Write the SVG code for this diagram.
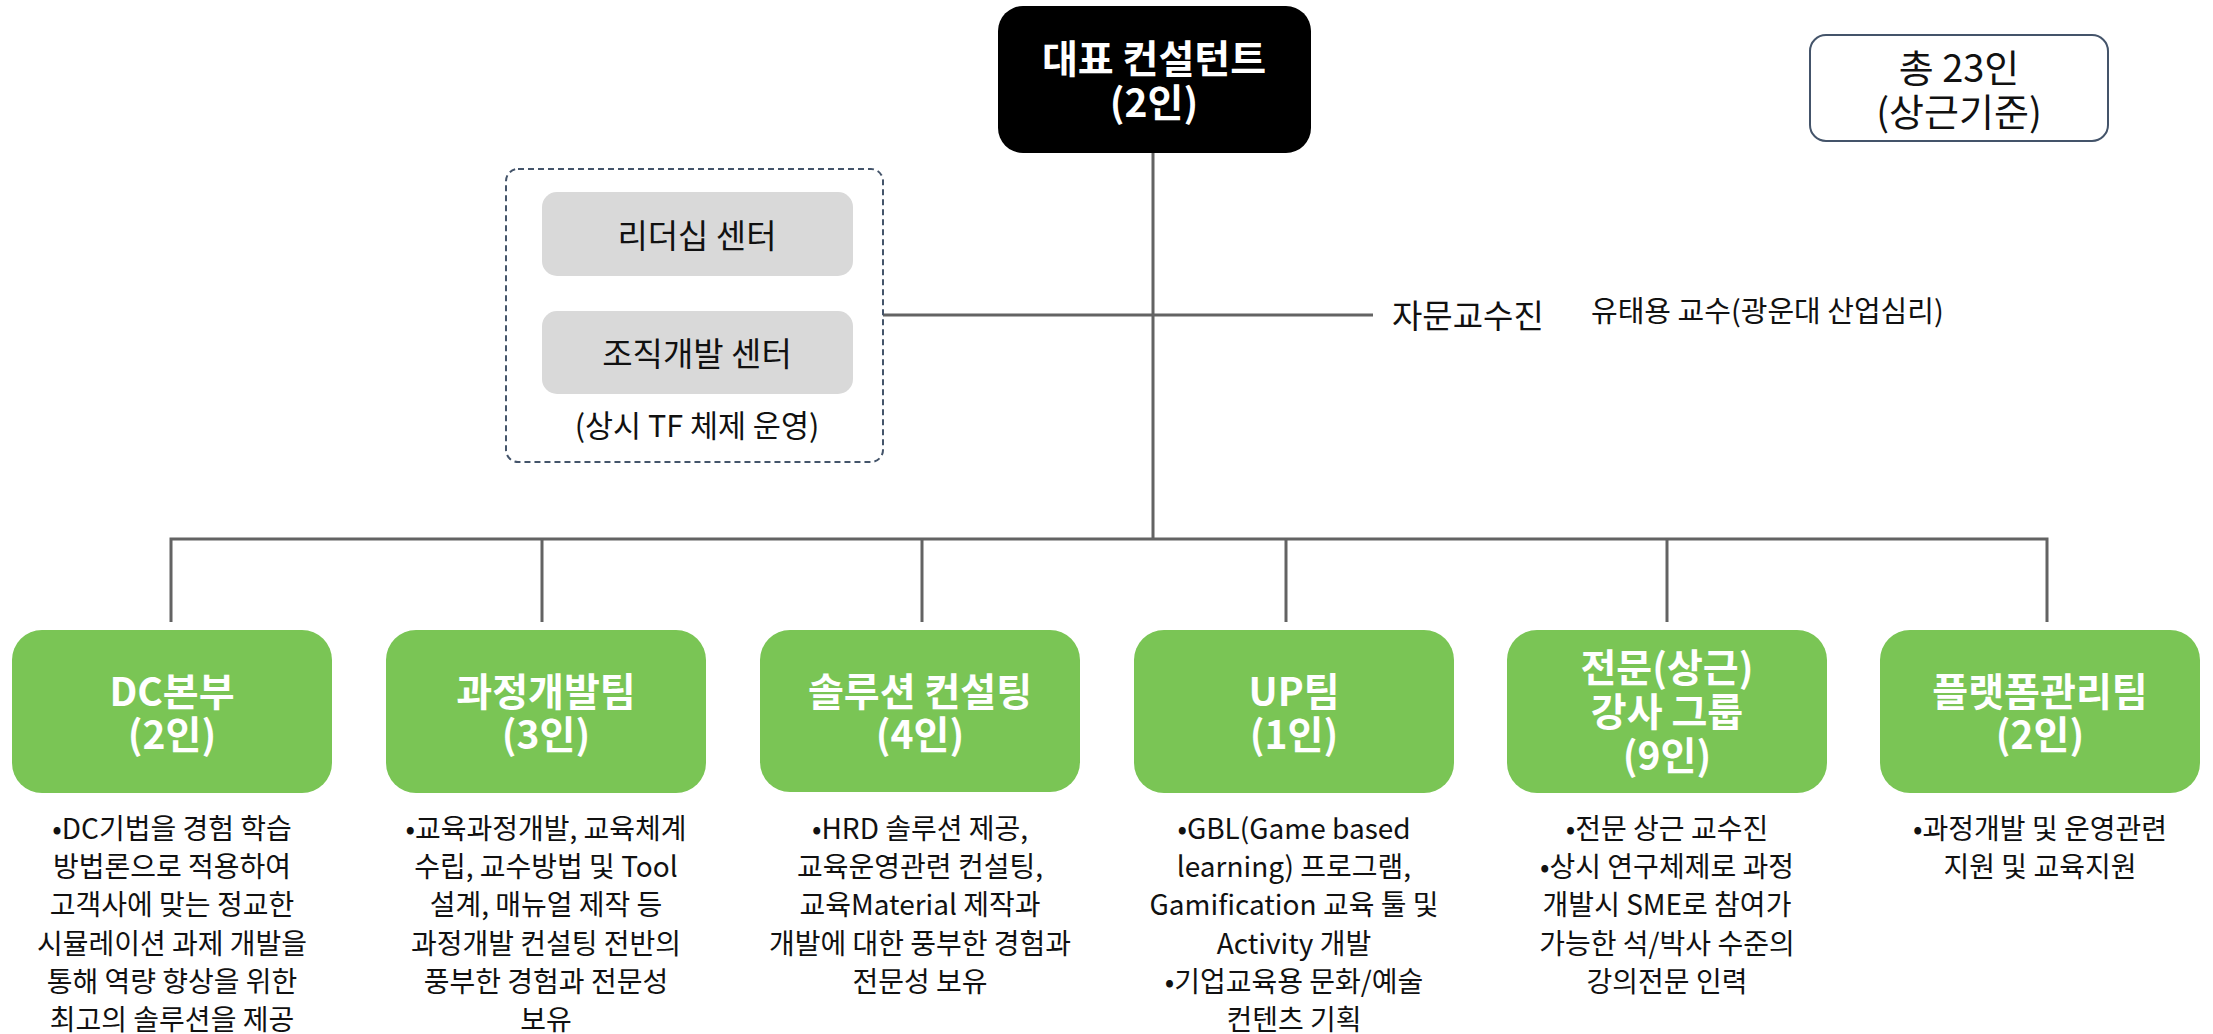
<svg xmlns="http://www.w3.org/2000/svg" width="2213" height="1034" viewBox="0 0 2213 1034">
<style>
text { font-family: "Noto Sans CJK KR", "Noto Sans", sans-serif; }
.conn { stroke: #636363; stroke-width: 3; fill: none; }
.team { fill: #7AC555; }
.title { font-weight: 700; font-size: 39px; fill: #ffffff; text-anchor: middle; }
.desc { font-size: 28px; fill: #111111; text-anchor: middle; }
.center { fill: #d9d9d9; }
.ctext { font-size: 33px; fill: #111111; text-anchor: middle; }
</style>
<rect x="0" y="0" width="2213" height="1034" fill="#ffffff"/>

<g id="connectors">
  <path class="conn" d="M1153 153 V539"/>
  <path class="conn" d="M883 315 H1373"/>
  <path class="conn" d="M171 622 V539 H2047 V622"/>
  <path class="conn" d="M542 539 V622"/>
  <path class="conn" d="M922 539 V622"/>
  <path class="conn" d="M1286 539 V622"/>
  <path class="conn" d="M1667 539 V622"/>
</g>

<g id="ceo">
  <rect x="998" y="6" width="313" height="147" rx="25" fill="#000000"/>
  <text class="title" x="1154" y="73">대표 컨설턴트<tspan x="1154" dy="44">(2인)</tspan></text>
</g>

<g id="total">
  <rect x="1810" y="35" width="298" height="106" rx="16" fill="#ffffff" stroke="#44546A" stroke-width="2"/>
  <text x="1959" y="82" font-size="38" fill="#111111" text-anchor="middle">총 23인<tspan x="1959" dy="44">(상근기준)</tspan></text>
</g>

<g id="tf-centers">
  <rect x="506" y="169" width="377" height="293" rx="12" fill="none" stroke="#44546A" stroke-width="2" stroke-dasharray="6 4"/>
  <g id="leadership-center">
    <rect class="center" x="542" y="192" width="311" height="84" rx="15"/>
    <text class="ctext" x="697" y="248">리더십 센터</text>
  </g>
  <g id="od-center">
    <rect class="center" x="542" y="311" width="311" height="83" rx="15"/>
    <text class="ctext" x="697" y="366">조직개발 센터</text>
  </g>
  <text x="697" y="437" font-size="30.5" fill="#111111" text-anchor="middle">(상시 TF 체제 운영)</text>
</g>

<g id="advisors">
  <text x="1392" y="328" font-size="33" fill="#111111">자문교수진</text>
  <text x="1591" y="322" font-size="29" fill="#111111">유태용 교수(광운대 산업심리)</text>
</g>

<g id="team-dc">
  <rect class="team" x="12" y="630" width="320" height="163" rx="30"/>
  <text class="title" x="172" y="706">DC본부<tspan x="172" dy="43">(2인)</tspan></text>
  <text class="desc" x="172" y="839">•DC기법을 경험 학습<tspan x="172" dy="38.2">방법론으로 적용하여</tspan><tspan x="172" dy="38.2">고객사에 맞는 정교한</tspan><tspan x="172" dy="38.2">시뮬레이션 과제 개발을</tspan><tspan x="172" dy="38.2">통해 역량 향상을 위한</tspan><tspan x="172" dy="38.2">최고의 솔루션을 제공</tspan></text>
</g>

<g id="team-course">
  <rect class="team" x="386" y="630" width="320" height="163" rx="30"/>
  <text class="title" x="546" y="706">과정개발팀<tspan x="546" dy="43">(3인)</tspan></text>
  <text class="desc" x="546" y="839">•교육과정개발, 교육체계<tspan x="546" dy="38.2">수립, 교수방법 및 Tool</tspan><tspan x="546" dy="38.2">설계, 매뉴얼 제작 등</tspan><tspan x="546" dy="38.2">과정개발 컨설팅 전반의</tspan><tspan x="546" dy="38.2">풍부한 경험과 전문성</tspan><tspan x="546" dy="38.2">보유</tspan></text>
</g>

<g id="team-solution">
  <rect class="team" x="760" y="630" width="320" height="162" rx="30"/>
  <text class="title" x="920" y="706">솔루션 컨설팅<tspan x="920" dy="43">(4인)</tspan></text>
  <text class="desc" x="920" y="839">•HRD 솔루션 제공,<tspan x="920" dy="38.2">교육운영관련 컨설팅,</tspan><tspan x="920" dy="38.2">교육Material 제작과</tspan><tspan x="920" dy="38.2">개발에 대한 풍부한 경험과</tspan><tspan x="920" dy="38.2">전문성 보유</tspan></text>
</g>

<g id="team-up">
  <rect class="team" x="1134" y="630" width="320" height="163" rx="30"/>
  <text class="title" x="1294" y="706">UP팀<tspan x="1294" dy="43">(1인)</tspan></text>
  <text class="desc" x="1294" y="839">•GBL(Game based<tspan x="1294" dy="38.2">learning) 프로그램,</tspan><tspan x="1294" dy="38.2">Gamification 교육 툴 및</tspan><tspan x="1294" dy="38.2">Activity 개발</tspan><tspan x="1294" dy="38.2">•기업교육용 문화/예술</tspan><tspan x="1294" dy="38.2">컨텐츠 기획</tspan></text>
</g>

<g id="team-instructors">
  <rect class="team" x="1507" y="630" width="320" height="163" rx="30"/>
  <text class="title" x="1667" y="682">전문(상근)<tspan x="1667" dy="44">강사 그룹</tspan><tspan x="1667" dy="44">(9인)</tspan></text>
  <text class="desc" x="1667" y="839">•전문 상근 교수진<tspan x="1667" dy="38.2">•상시 연구체제로 과정</tspan><tspan x="1667" dy="38.2">개발시 SME로 참여가</tspan><tspan x="1667" dy="38.2">가능한 석/박사 수준의</tspan><tspan x="1667" dy="38.2">강의전문 인력</tspan></text>
</g>

<g id="team-platform">
  <rect class="team" x="1880" y="630" width="320" height="163" rx="30"/>
  <text class="title" x="2040" y="706">플랫폼관리팀<tspan x="2040" dy="43">(2인)</tspan></text>
  <text class="desc" x="2040" y="839">•과정개발 및 운영관련<tspan x="2040" dy="38.2">지원 및 교육지원</tspan></text>
</g>
</svg>
